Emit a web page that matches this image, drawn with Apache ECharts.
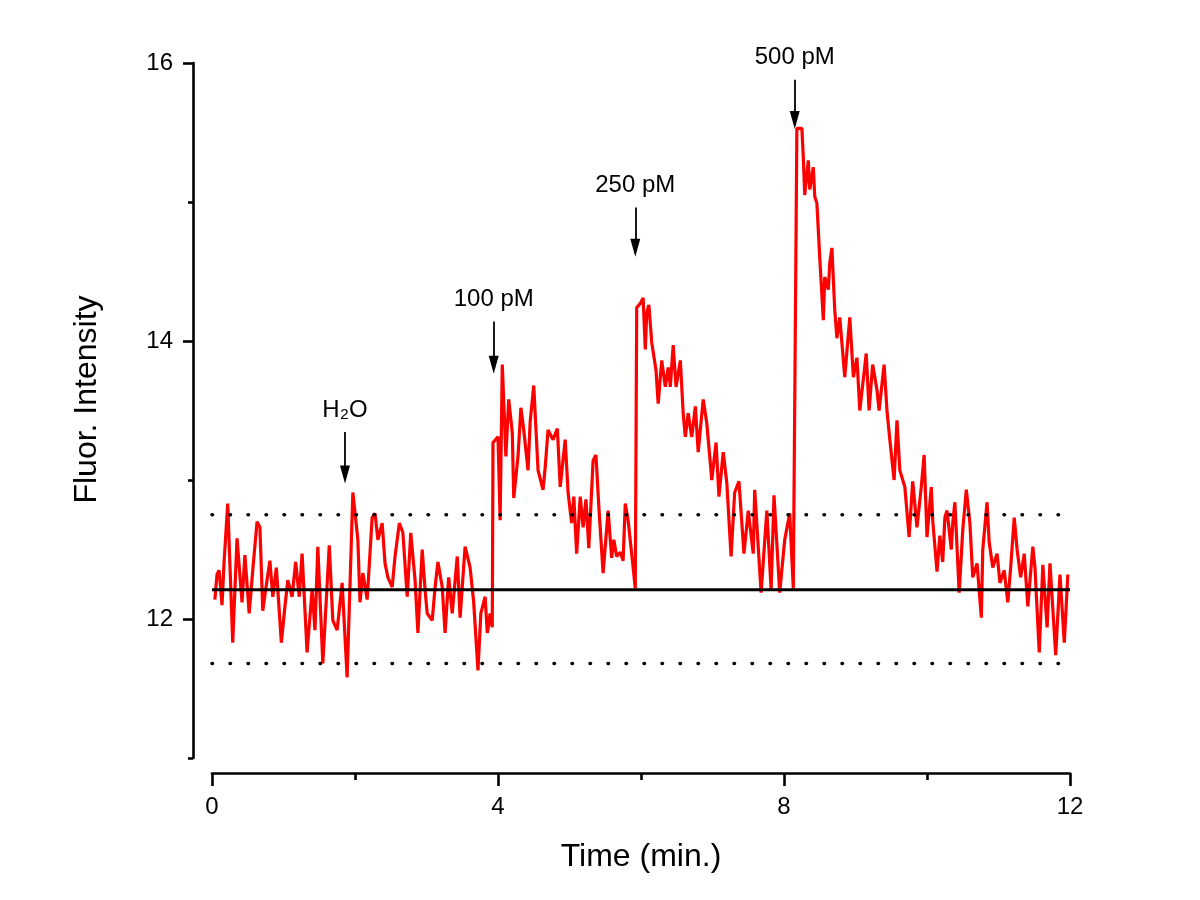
<!DOCTYPE html>
<html><head><meta charset="utf-8">
<script src="https://cdn.jsdelivr.net/npm/echarts@6/dist/echarts.min.js"></script>
<style>html,body{margin:0;background:#fff}#c{width:1200px;height:900px}</style>
</head><body><div id="c"></div>
<script>
// Time (min.)
const timeMin = [
0.04,0.07,0.10,0.14,0.17,0.22,0.29,0.35,0.42,0.46,0.52,0.57,0.63,0.67,0.71,0.77,0.81,0.85,0.90,0.97,
1.02,1.06,1.12,1.17,1.22,1.26,1.33,1.40,1.44,1.48,1.55,1.64,1.69,1.75,1.82,1.89,1.97,2.04,
2.07,2.11,2.17,2.24,2.28,2.32,2.38,2.42,2.46,2.52,2.56,2.62,2.67,2.73,2.78,2.84,2.88,2.94,2.98,
3.01,3.08,3.12,3.16,3.22,3.26,3.31,3.36,3.43,3.47,3.54,3.61,3.66,3.72,3.76,3.82,3.85,3.89,3.92,
3.93,4.00,4.03,4.06,4.11,4.15,4.20,4.22,4.28,4.32,4.36,4.42,4.45,4.50,4.56,4.63,4.66,4.70,4.77,4.83,4.87,4.94,4.98,
5.03,5.06,5.10,5.15,5.19,5.23,5.27,5.33,5.37,5.41,5.47,5.54,5.59,5.62,5.66,5.71,5.75,5.78,5.82,5.89,5.92,
5.94,5.99,6.03,6.06,6.08,6.11,6.15,6.21,6.24,6.29,6.34,6.38,6.41,6.45,6.49,6.55,6.59,6.62,6.66,6.71,6.76,6.80,6.87,6.92,6.99,
7.05,7.09,7.15,7.20,7.26,7.31,7.37,7.44,7.50,7.57,7.59,7.68,7.76,7.82,7.86,7.94,
8.01,8.08,8.13,8.18,8.25,8.27,8.29,8.34,8.36,8.41,8.43,8.46,8.50,8.55,8.57,8.62,8.64,8.67,8.71,8.74,8.78,8.85,8.92,8.97,
9.02,9.06,9.15,9.19,9.24,9.30,9.33,9.40,9.44,9.48,9.54,9.58,9.62,9.69,9.75,9.80,9.86,9.92,9.96,
10.00,10.06,10.08,10.14,10.18,10.22,10.25,10.28,10.34,10.36,10.39,10.45,10.50,10.55,10.60,10.64,10.70,10.76,10.78,10.84,10.87,10.92,10.98,
11.02,11.08,11.13,11.17,11.22,11.26,11.31,11.36,11.41,11.48,11.51,11.57,11.62,11.68,11.72,11.80,11.86,11.92,11.97
];
// Fluor. Intensity
const intensity = [
12.14,12.32,12.35,12.10,12.42,12.83,11.83,12.58,12.12,12.46,12.04,12.35,12.70,12.66,12.06,12.28,12.42,12.16,12.37,11.83,
12.09,12.28,12.16,12.41,12.16,12.47,11.76,12.21,11.92,12.52,11.68,12.53,11.99,11.92,12.26,11.58,12.91,12.57,
12.12,12.33,12.14,12.73,12.76,12.57,12.69,12.40,12.30,12.23,12.45,12.69,12.62,12.16,12.62,12.28,11.90,12.50,12.21,
12.04,11.99,12.23,12.41,12.23,11.90,12.30,12.04,12.45,12.01,12.52,12.37,12.12,11.63,12.04,12.16,11.90,12.04,11.94,
13.27,13.31,12.71,13.83,13.17,13.58,13.34,12.87,13.17,13.52,13.36,13.07,13.42,13.68,13.07,12.93,13.09,13.36,13.29,13.37,12.95,13.29,12.91,
12.69,12.88,12.47,12.88,12.66,12.86,12.51,13.14,13.18,12.81,12.33,12.78,12.44,12.57,12.45,12.48,12.42,12.83,12.71,12.37,12.22,
14.24,14.27,14.31,13.94,14.20,14.26,13.99,13.79,13.55,13.86,13.67,13.81,13.67,13.97,13.67,13.86,13.48,13.31,13.48,13.31,13.53,13.20,13.58,13.41,13.00,
13.27,12.88,13.20,12.98,12.45,12.91,12.99,12.47,12.78,12.47,12.93,12.19,12.78,12.21,12.89,12.19,
12.57,12.76,12.22,15.53,15.53,15.32,15.05,15.30,15.09,15.25,15.04,14.99,14.60,14.15,14.46,14.37,14.56,14.67,14.22,14.02,14.17,13.74,14.17,13.74,
13.88,13.50,13.91,13.50,13.83,13.65,13.50,13.83,13.50,13.29,13.00,13.43,13.07,12.95,12.59,12.99,12.66,12.95,13.18,
12.59,12.95,12.71,12.34,12.60,12.41,12.73,12.78,12.50,12.69,12.84,12.19,12.64,12.93,12.69,12.30,12.40,12.01,12.50,12.84,12.55,12.37,12.47,
12.26,12.35,12.12,12.37,12.73,12.50,12.30,12.47,12.09,12.52,12.37,11.76,12.39,11.94,12.40,11.74,12.32,11.83,12.32
];
const baselineLevel = 12.21;
const upperLevel = 12.75;
const lowerLevel = 11.68;
const timeRange = [0, 12];
const annotationNames = ['H\u2082O', '100 pM', '250 pM', '500 pM'];
const annotationTime = [1.86, 3.94, 5.92, 8.15];
const arrowTop = [13.345, 14.14, 14.96, 15.88];
const arrowTip = [13.04, 13.83, 14.67, 15.59];
const yMajorTicks = [12, 14, 16];
const yMinorTicks = [11, 13, 15];

const font = '"Liberation Sans", Arial, "DejaVu Sans", sans-serif';
const trace = timeMin.map((t, i) => [t, intensity[i]]);
const hLine = v => timeRange.map(t => [t, v]);

const arrowData = annotationNames.map((n, i) => [
  { name: n, coord: [annotationTime[i], arrowTop[i]] },
  { coord: [annotationTime[i], arrowTip[i]] }
]);

const axisColor = '#000';
const chart = echarts.init(document.getElementById('c'));
chart.setOption({
  animation: false,
  backgroundColor: '#fff',
  grid: { left: 212, right: 130, top: 63, bottom: 142 },
  xAxis: {
    type: 'value', min: 0, max: 12, interval: 4, offset: 15,
    axisLine: { onZero: false, lineStyle: { color: axisColor, width: 2.6 } },
    axisTick: { length: 13, lineStyle: { color: axisColor, width: 2.6 } },
    minorTick: { show: true, splitNumber: 2, length: 7, lineStyle: { color: axisColor, width: 2.6 } },
    axisLabel: { color: '#000', fontSize: 24, margin: 22, fontFamily: font },
    splitLine: { show: false }, minorSplitLine: { show: false },
    name: 'Time (min.)', nameLocation: 'middle', nameGap: 68,
    nameTextStyle: { fontSize: 32, color: '#000', fontFamily: font }
  },
  yAxis: [{
    type: 'value', min: 11, max: 16, interval: 1, offset: 19,
    axisLine: { show: true, onZero: false, lineStyle: { color: axisColor, width: 2.6 } },
    axisTick: { show: true, customValues: yMajorTicks, length: 10, lineStyle: { color: axisColor, width: 2.6 } },
    axisLabel: { customValues: yMajorTicks, color: '#000', fontSize: 24, margin: 20, fontFamily: font },
    splitLine: { show: false },
    name: 'Fluor. Intensity', nameLocation: 'middle', nameGap: 90,
    nameTextStyle: { fontSize: 32, color: '#000', fontFamily: font, padding: [0, 0, 0, 22] }
  }, {
    type: 'value', min: 11, max: 16, interval: 1, offset: 19, position: 'left',
    axisLine: { show: false, onZero: false },
    axisTick: { show: true, customValues: yMinorTicks, length: 5, lineStyle: { color: axisColor, width: 2.6 } },
    axisLabel: { show: false },
    splitLine: { show: false }
  }],
  series: [
    { type: 'line', data: trace, symbol: 'none', lineStyle: { color: '#ff0000', width: 3.2 }, z: 2 },
    { type: 'line', data: hLine(upperLevel), symbol: 'none', lineStyle: { color: '#000', width: 3.5, type: [0.5, 17.5], cap: 'round' }, z: 3 },
    { type: 'line', data: hLine(lowerLevel), symbol: 'none', lineStyle: { color: '#000', width: 3.5, type: [0.5, 17.5], cap: 'round' }, z: 3 },
    { type: 'line', data: hLine(baselineLevel), symbol: 'none', lineStyle: { color: '#000', width: 3 }, z: 4,
      markLine: {
        silent: true, animation: false,
        symbol: ['none', 'triangle'], symbolSize: [10, 18], symbolOffset: [0, 0],
        lineStyle: { color: '#000', width: 1.8, type: 'solid' },
        label: { show: true, position: 'start', distance: 10, formatter: '{b}', color: '#000', fontSize: 24, fontFamily: font },
        emphasis: { disabled: true },
        data: arrowData
      }
    }
  ]
});
</script></body></html>
